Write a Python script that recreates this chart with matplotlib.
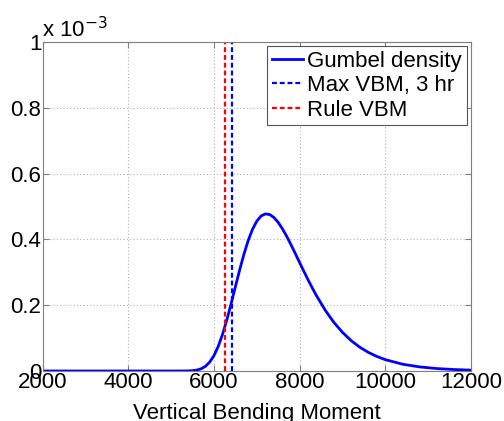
import numpy as np
import matplotlib
matplotlib.use("Agg")
import matplotlib.pyplot as plt
from matplotlib.ticker import FuncFormatter

plt.rcParams['font.family'] = ['Liberation Sans', 'DejaVu Sans']

# values (density in units of 1e-3)
moment = [2000, 3000, 4000, 4500, 5000, 5200, 5300, 5400, 5500, 5600, 5700, 5800,
          5900, 6000, 6100, 6200, 6300, 6400, 6500, 6600, 6700, 6800, 6900,
          7000, 7100, 7200, 7300, 7400, 7500, 7600, 7700, 7800, 7900, 8000,
          8100, 8200, 8300, 8400, 8600, 8800, 9000, 9200, 9400, 9600, 9800,
          10000, 10400, 10800, 11200, 11600, 12000]
density = [0.0, 0.0, 0.0, 0.0, 0.0, 0.0, 0.0001, 0.0003, 0.0010, 0.0028, 0.0067, 0.0142,
           0.0271, 0.0471, 0.0752, 0.1116, 0.1555, 0.2047, 0.2565, 0.3077, 0.3555, 0.3972,
           0.4309, 0.4557, 0.4712, 0.4775, 0.4756, 0.4665, 0.4514, 0.4317, 0.4086, 0.3832,
           0.3565, 0.3293, 0.3024, 0.2762, 0.2511, 0.2272, 0.1841, 0.1475, 0.1173, 0.0925,
           0.0726, 0.0568, 0.0443, 0.0344, 0.0207, 0.0124, 0.0074, 0.0044, 0.0026]
scale = 1e-3
max_vbm_3hr = 6420
rule_vbm = 6260

fs = 16

fig = plt.figure(figsize=(5.04, 4.21), dpi=100)
ax = fig.add_axes([0.0847, 0.1188, 0.8498, 0.7814])

ax.plot(moment, np.array(density) * scale, color="blue", linewidth=2, label="Gumbel density")
ax.plot([max_vbm_3hr, max_vbm_3hr], [0, 1e-3], color="blue", linestyle=(0, (2.2, 1.3)),
        linewidth=1.6, label="Max VBM, 3 hr")
ax.plot([rule_vbm, rule_vbm], [0, 1e-3], color="red", linestyle=(0, (2.2, 1.3)),
        linewidth=1.6, label="Rule VBM")

ax.set_xlim(2000, 12000)
ax.set_ylim(0, 1e-3)
ax.set_xticks([2000, 4000, 6000, 8000, 10000, 12000])
ax.set_yticks(np.array([0, 0.2, 0.4, 0.6, 0.8, 1.0]) * scale)
ax.yaxis.set_major_formatter(FuncFormatter(lambda v, p: ("%g" % round(v / scale, 3))))
ax.tick_params(direction="in", top=True, right=True, labelsize=fs, colors="#7f7f7f",
               labelcolor="black", length=4, pad=1)
for s in ax.spines.values():
    s.set_color("#7f7f7f")
ax.grid(True, linestyle=(0, (1, 2)), color="#b0b0b0", linewidth=0.8)

ax.set_xlabel("Vertical Bending Moment", fontsize=fs, labelpad=7)
fig.text(0.084, 0.900, r"x 10$^{-3}$", fontsize=fs, ha="left", va="bottom")

leg = ax.legend(loc="upper right", fontsize=fs, fancybox=False, framealpha=1,
                borderaxespad=0.2, handlelength=1.4, handletextpad=0.2,
                borderpad=0.2, labelspacing=0.15)
leg.get_frame().set_edgecolor("#555555")
leg.get_frame().set_linewidth(0.8)

plt.savefig("out.png", dpi=100)
